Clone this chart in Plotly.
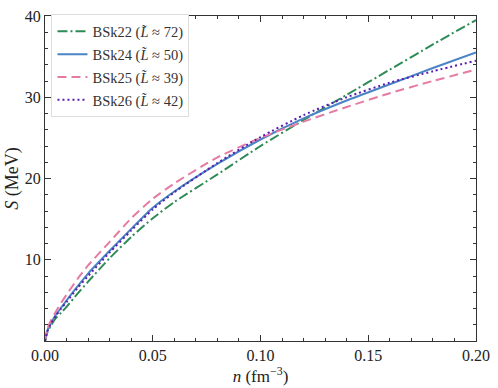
import plotly.graph_objects as go

n = [0.0, 0.001, 0.0025, 0.005, 0.0075, 0.01, 0.015, 0.02, 0.03, 0.04, 0.05, 0.06, 0.08, 0.10, 0.12, 0.14, 0.16, 0.18, 0.20]
S_bsk22 = [0.0, 1.0, 1.8, 2.8, 3.5, 4.2, 5.8, 7.3, 10.2, 12.8, 15.1, 17.1, 20.5, 24.0, 27.2, 30.3, 33.4, 36.5, 39.5]
S_bsk24 = [0.0, 1.2, 2.1, 3.2, 4.1, 5.0, 6.7, 8.3, 11.1, 13.8, 16.4, 18.4, 21.8, 24.8, 27.4, 29.6, 31.6, 33.6, 35.5]
S_bsk25 = [0.0, 1.4, 2.4, 3.6, 4.7, 5.7, 7.6, 9.3, 12.2, 15.1, 17.5, 19.4, 22.6, 25.0, 27.0, 28.8, 30.5, 32.0, 33.4]
S_bsk26 = [0.0, 1.1, 2.0, 3.1, 4.0, 4.8, 6.5, 8.0, 10.9, 13.6, 16.2, 18.3, 21.9, 25.1, 27.8, 30.0, 31.8, 33.2, 34.5]

names = ["BSk22 (<i>L&#771;</i> ≈ 72)", "BSk24 (<i>L&#771;</i> ≈ 50)",
         "BSk25 (<i>L&#771;</i> ≈ 39)", "BSk26 (<i>L&#771;</i> ≈ 42)"]
series = [S_bsk22, S_bsk24, S_bsk25, S_bsk26]
colors = ["#2e8b57", "#4a84c4", "#e57ba3", "#5a1cb2"]
dashes = ["10px,3px,2px,3px", "solid", "9px,5px", "2px,3px"]

FONT = "Liberation Serif"
fig = go.Figure()
for i, (name, s, c, d) in enumerate(zip(names, series, colors, dashes)):
    fig.add_trace(go.Scatter(x=n, y=s, mode="lines", name=name, legendgroup=f"g{i}",
                             line=dict(color=c, width=2, dash=d, shape="spline", smoothing=0.6)))

axis_common = dict(showline=True, linecolor="#333", linewidth=1, mirror="allticks",
                   ticks="inside", ticklen=6, tickcolor="#333", showgrid=False, zeroline=False,
                   tickfont=dict(family=FONT, size=16, color="#222"))
fig.update_xaxes(range=[0, 0.2], tickvals=[0, 0.05, 0.1, 0.15, 0.2],
                 ticktext=["0.00", "0.05", "0.10", "0.15", "0.20"],
                 minor=dict(tickvals=[i / 100 for i in range(21)], ticks="inside", ticklen=3, tickcolor="#333"),
                 title=dict(text="<i>n</i> (fm<sup>−3</sup>)", font=dict(family=FONT, size=17, color="#222"), standoff=4),
                 **axis_common)
fig.update_yaxes(range=[0, 40], tickvals=[10, 20, 30, 40],
                 minor=dict(tickvals=list(range(0, 41, 2)), ticks="inside", ticklen=3, tickcolor="#333"),
                 title=dict(text="<i>S</i> (MeV)", font=dict(family=FONT, size=18, color="#222"), standoff=1),
                 **axis_common)
fig.update_layout(width=498, height=388, margin=dict(l=45, r=15, t=8, b=47),
                  plot_bgcolor="white", paper_bgcolor="white",
                  font=dict(family=FONT, size=15, color="#222"),
                  legend=dict(x=0.015, y=1.005, xanchor="left", yanchor="top",
                              bgcolor="white", bordercolor="#ddd", borderwidth=1,
                              font=dict(family=FONT, size=14.5, color="#333"),
                              itemwidth=30, tracegroupgap=1))
fig.write_html("out.html", config={"displayModeBar": False},
               post_script="document.body.style.margin='0';document.body.style.overflow='hidden';")
